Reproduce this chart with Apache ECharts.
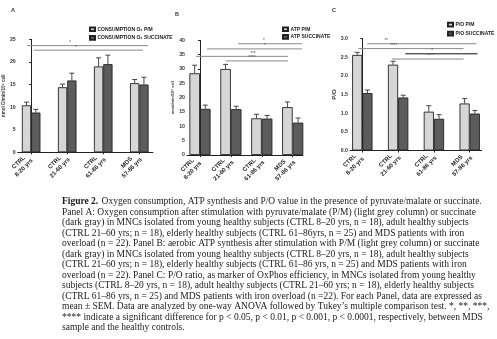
<!DOCTYPE html>
<html>
<head>
<meta charset="utf-8">
<script src="https://cdn.jsdelivr.net/npm/echarts@6/dist/echarts.min.js"></script>
<style>
  html, body { margin: 0; padding: 0; background: #ffffff; }
  #chart { width: 497px; height: 339px; }
</style>
</head>
<body>
<div id="chart"></div>
<script>
// ---- data -------------------------------------------------------------
const groupTop = ['CTRL', 'CTRL', 'CTRL', 'MDS'];
const groupAge = ['8-20 yrs', '21-60 yrs', '61-86 yrs', '57-86 yrs'];

// Panel A: oxygen consumption
const o2PM = [10.4, 14.4, 19.0, 15.3];
const o2PMsem = [0.7, 0.7, 1.9, 0.8];
const o2Succ = [8.8, 15.9, 19.5, 15.0];
const o2SuccSem = [0.7, 1.6, 2.0, 1.6];

// Panel B: aerobic ATP synthesis
const atpPM = [28.5, 30.0, 12.8, 16.7];
const atpPMsem = [2.8, 1.6, 1.4, 1.8];
const atpSucc = [16.1, 16.0, 12.7, 11.3];
const atpSuccSem = [1.3, 1.0, 1.1, 1.6];

// Panel C: P/O ratio
const poPM = [2.56, 2.30, 1.04, 1.26];
const poPMsem = [0.07, 0.09, 0.16, 0.13];
const poSucc = [1.54, 1.42, 0.85, 0.99];
const poSuccSem = [0.08, 0.06, 0.11, 0.08];

// significance brackets: [from group, to group, level, stars, star position]
const sigA = [[-0.11, 3.24, 23.6, '*', 1.08], [0.08, 3.10, 22.6, '*', 1.25]];
const sigB = [[1.23, 3.30, 38.8, '*', 2.07], [0.23, 3.30, 37.0, '*', 2.10],
              [-0.13, 2.85, 34.4, '***', 1.72], [0.83, 2.85, 32.8, '****', 1.68]];
const sigC = [[0.14, 3.19, 2.86, '**', 0.67], [-0.11, 2.83, 2.73, '****', 0.88],
              [1.20, 3.22, 2.59, '*', 1.95], [0.83, 2.83, 2.45, '****', 1.90]];
const sigCDark = [false, false, true, false];

const captionLines = [
  'Oxygen consumption, ATP synthesis and P/O value in the presence of pyruvate/malate or succinate.',
  'Panel A: Oxygen consumption after stimulation with pyruvate/malate (P/M) (light grey column) or succinate',
  '(dark gray) in MNCs isolated from young healthy subjects (CTRL 8–20 yrs, n = 18), adult healthy subjects',
  '(CTRL 21–60 yrs; n = 18), elderly healthy subjects (CTRL 61–86yrs, n = 25) and MDS patients with iron',
  'overload (n = 22). Panel B: aerobic ATP synthesis after stimulation with P/M (light grey column) or succinate',
  '(dark gray) in MNCs isolated from young healthy subjects (CTRL 8–20 yrs, n = 18), adult healthy subjects',
  '(CTRL 21–60 yrs; n = 18), elderly healthy subjects (CTRL 61–86 yrs, n = 25) and MDS patients with iron',
  'overload (n = 22). Panel C: P/O ratio, as marker of OxPhos efficiency, in MNCs isolated from young healthy',
  'subjects (CTRL 8–20 yrs, n = 18), adult healthy subjects (CTRL 21–60 yrs; n = 18), elderly healthy subjects',
  '(CTRL 61–86 yrs, n = 25) and MDS patients with iron overload (n =22). For each Panel, data are expressed as',
  'mean ± SEM. Data are analyzed by one-way ANOVA followed by Tukey’s multiple comparison test. *, **, ***,',
  '**** indicate a significant difference for p < 0.05, p < 0.01, p < 0.001, p < 0.0001, respectively, between MDS',
  'sample and the healthy controls.'
];

// ---- styling ----------------------------------------------------------
const LIGHT = '#d6d6d6';
const DARK = '#5c5c5c';
const INK = '#222222';
const SANS = 'Liberation Sans, Arial, sans-serif';

const panels = [
  { grid: { left: 17.5, top: 39.3, width: 135.5, height: 113 }, xMin: -0.374, xMax: 3.38,
    yMax: 25, yStep: 5, barW: 9.3, name: 'nmol O/min/10⁶ cell', nameSize: 4.6, nameGap: 10,
    s1: 'CONSUMPTION O₂ P/M', s2: 'CONSUMPTION O₂ SUCCINATE',
    v1: o2PM, e1: o2PMsem, v2: o2Succ, e2: o2SuccSem, sig: sigA, sigDark: [false, false],
    legend: { left: 89, top: 26.5, gap: 3 } },
  { grid: { left: 187, top: 40.3, width: 116, height: 114.7 }, xMin: -0.42, xMax: 3.333,
    yMax: 40, yStep: 5, barW: 10.6, name: 'nmol/min/10⁶ cell', nameSize: 4, nameGap: 8,
    s1: 'ATP P/M', s2: 'ATP SUCCINATE',
    v1: atpPM, e1: atpPMsem, v2: atpSucc, e2: atpSuccSem, sig: sigB, sigDark: [false, false, false, false],
    legend: { left: 282, top: 26.5, gap: 2 } },
  { grid: { left: 350, top: 38.5, width: 131.7, height: 112 }, xMin: -0.344, xMax: 3.335,
    yMax: 3, yStep: 0.5, barW: 10.2, name: 'P/O', nameSize: 6, nameGap: 9, decimals: 1,
    s1: 'P/O P/M', s2: 'P/O SUCCINATE',
    v1: poPM, e1: poPMsem, v2: poSucc, e2: poSuccSem, sig: sigC, sigDark: sigCDark,
    legend: { left: 447, top: 21.8, gap: 3.4 } }
];

const grids = [], xAxes = [], yAxes = [], series = [], legends = [];

function errorSeries(gi, vals, sems, side, barW) {
  return {
    type: 'custom', xAxisIndex: gi, yAxisIndex: gi, z: 4, silent: true, clip: false,
    data: vals.map((v, i) => [i, v, v + sems[i]]),
    encode: { x: 0, y: [1, 2] },
    renderItem(params, api) {
      const a = api.coord([api.value(0), api.value(1)]);
      const b = api.coord([api.value(0), api.value(2)]);
      const x = a[0] + side * barW / 2;
      const st = { stroke: '#333', lineWidth: 0.9 };
      return { type: 'group', children: [
        { type: 'line', shape: { x1: x, y1: a[1], x2: x, y2: b[1] }, style: st },
        { type: 'line', shape: { x1: x - 2.5, y1: b[1], x2: x + 2.5, y2: b[1] }, style: st }
      ] };
    }
  };
}

function bracketSeries(gi, list, dark) {
  return {
    type: 'custom', xAxisIndex: gi, yAxisIndex: gi, z: 5, silent: true, clip: false,
    data: list.map(b => [b[0], b[1], b[2], b[4]]),
    encode: { x: [0, 1], y: 2 },
    renderItem(params, api) {
      const i = params.dataIndex;
      const col = dark[i] ? '#111' : '#8a8a8a';
      const p1 = api.coord([api.value(0), api.value(2)]);
      const p2 = api.coord([api.value(1), api.value(2)]);
      const pl = api.coord([api.value(3), api.value(2)]);
      return { type: 'group', children: [
        { type: 'line', shape: { x1: p1[0], y1: p1[1], x2: p2[0], y2: p2[1] },
          style: { stroke: col, lineWidth: 1 } },
        { type: 'text', x: pl[0], y: p1[1] - 0.3,
          style: { text: list[i][3], fill: '#555', font: '4.5px ' + SANS,
                   align: 'center', verticalAlign: 'bottom' } }
      ] };
    }
  };
}

panels.forEach((p, gi) => {
  grids.push(p.grid);
  xAxes.push({
    gridIndex: gi, type: 'value', min: p.xMin, max: p.xMax,
    splitLine: { show: false },
    axisLine: { show: true, onZero: false, lineStyle: { color: INK, width: 1 } },
    axisTick: { show: true, customValues: [0, 1, 2, 3], length: 2, lineStyle: { color: INK } },
    axisLabel: {
      customValues: [0, 1, 2, 3], rotate: 45, margin: 3,
      formatter: v => '{a|' + groupTop[v] + '}\n{a|' + groupAge[v] + '}',
      rich: { a: { width: 28, align: 'center', fontSize: 6, fontWeight: 'bold',
                   fontFamily: SANS, color: INK, lineHeight: 7.5 } }
    }
  });
  yAxes.push({
    gridIndex: gi, type: 'value', min: 0, max: p.yMax, interval: p.yStep,
    splitLine: { show: false },
    axisLine: { show: true, lineStyle: { color: INK, width: 1 } },
    axisTick: { show: true, length: 2, lineStyle: { color: INK } },
    axisLabel: { fontSize: 5.2, fontWeight: 'bold', color: '#333', fontFamily: SANS, margin: 2,
                 formatter: v => p.decimals ? v.toFixed(p.decimals) : String(v) },
    name: p.name, nameLocation: 'middle', nameGap: p.nameGap, nameRotate: 90,
    nameTextStyle: { fontSize: p.nameSize, fontWeight: 'bold', color: '#333', fontFamily: SANS }
  });
  const barStyle = (c) => ({ color: c, borderColor: '#222', borderWidth: 0.9 });
  series.push({
    name: p.s1, type: 'bar', xAxisIndex: gi, yAxisIndex: gi, barWidth: p.barW, barGap: '0%',
    data: p.v1.map((v, i) => [i, v]), itemStyle: barStyle(LIGHT), silent: true
  });
  series.push({
    name: p.s2, type: 'bar', xAxisIndex: gi, yAxisIndex: gi, barWidth: p.barW, barGap: '0%',
    data: p.v2.map((v, i) => [i, v]), itemStyle: barStyle(DARK), silent: true
  });
  series.push(errorSeries(gi, p.v1, p.e1, -1, p.barW));
  series.push(errorSeries(gi, p.v2, p.e2, 1, p.barW));
  series.push(bracketSeries(gi, p.sig, p.sigDark));
  legends.push({
    data: [p.s1, p.s2], orient: 'vertical', left: p.legend.left, top: p.legend.top,
    padding: 0, itemGap: p.legend.gap, itemWidth: 5, itemHeight: 3.6, icon: 'rect',
    selectedMode: false,
    textStyle: { fontSize: 5, fontWeight: 'bold', color: INK, fontFamily: SANS,
                 lineHeight: 5, padding: [0, 0, 0, -2.5] }
  });
});

// panel letters and figure caption
const graphics = [
  { type: 'text', left: 11, top: 7.5, style: { text: 'A', font: 'bold 5.5px ' + SANS, fill: '#333' } },
  { type: 'text', left: 175, top: 11, style: { text: 'B', font: 'bold 5.5px ' + SANS, fill: '#333' } },
  { type: 'text', left: 332, top: 7.5, style: { text: 'C', font: 'bold 5.5px ' + SANS, fill: '#333' } }
];
captionLines.forEach((line, i) => {
  const txt = i === 0 ? '{b|Figure 2.} {n|' + line + '}' : '{n|' + line + '}';
  graphics.push({
    type: 'text', x: 62, y: 201.7 + i * 10.5,
    style: {
      text: txt, verticalAlign: 'middle', align: 'left',
      rich: {
        b: { fontFamily: 'Liberation Serif, serif', fontSize: 9.5, fontWeight: 'bold', fill: '#1a1a1a' },
        n: { fontFamily: 'Liberation Serif, serif', fontSize: 9.5, fill: '#1a1a1a' }
      }
    }
  });
});

const chart = echarts.init(document.getElementById('chart'));
chart.setOption({
  animation: false,
  backgroundColor: '#ffffff',
  grid: grids,
  xAxis: xAxes,
  yAxis: yAxes,
  legend: legends,
  series: series,
  graphic: graphics
});
</script>
</body>
</html>
